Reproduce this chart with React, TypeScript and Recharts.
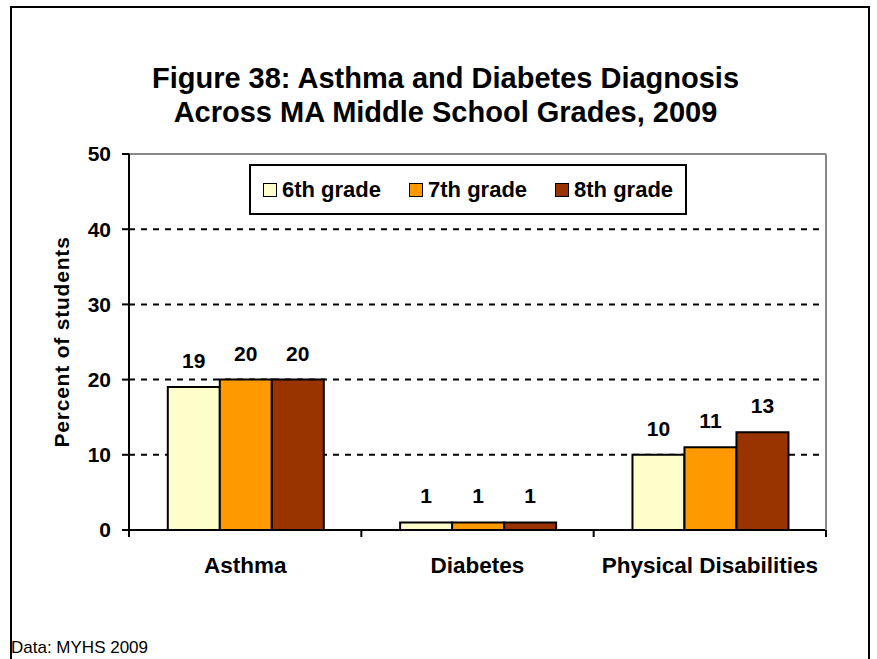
import React from 'react';
import { BarChart, Bar, XAxis, YAxis, CartesianGrid, Legend, LabelList } from 'recharts';

const categories = ['Asthma', 'Diabetes', 'Physical Disabilities'];
const grade6 = [19, 1, 10];
const grade7 = [20, 1, 11];
const grade8 = [20, 1, 13];
const seriesNames = ['6th grade', '7th grade', '8th grade'];
const seriesColors = ['#FFFFCC', '#FF9900', '#993300'];
const yTicks = [0, 10, 20, 30, 40, 50];

const data = categories.map((c, i) => ({ category: c, g6: grade6[i], g7: grade7[i], g8: grade8[i] }));
const keys = ['g6', 'g7', 'g8'];

const FONT = 'Arial, "Liberation Sans", sans-serif';

const CatTick = (props: any) => {
  const { x, y, payload, index, visibleTicksCount } = props;
  const half = payload && typeof payload.offset === 'number' ? payload.offset : 0;
  const isLast = typeof visibleTicksCount === 'number' ? index === visibleTicksCount - 1 : index === categories.length - 1;
  return (
    <g>
      <line x1={x - half} y1={y} x2={x - half} y2={y + 7} stroke="#000" strokeWidth={2} />
      {isLast && <line x1={x + half} y1={y} x2={x + half} y2={y + 7} stroke="#000" strokeWidth={2} />}
      <text x={x} y={y} dy={43} textAnchor="middle" fontFamily={FONT} fontWeight="bold" fontSize={22.5} fill="#000">
        {payload.value}
      </text>
    </g>
  );
};

const LegendContent = (props: any) => {
  const { payload } = props;
  return (
    <div
      style={{
        border: '2px solid #000',
        background: '#fff',
        boxSizing: 'border-box',
        width: 438,
        height: 51,
        display: 'flex',
        alignItems: 'center',
        paddingLeft: 12,
        fontFamily: FONT,
        fontWeight: 'bold',
        fontSize: 22,
        color: '#000',
      }}
    >
      {(payload || []).map((p: any, i: number) => (
        <div key={i} style={{ display: 'flex', alignItems: 'center', marginRight: i < 2 ? 28 : 0 }}>
          <span
            style={{
              display: 'inline-block',
              width: 12,
              height: 12,
              border: '1.5px solid #000',
              background: p.color,
              marginRight: 5,
            }}
          />
          <span>{p.value}</span>
        </div>
      ))}
    </div>
  );
};

export default function App() {
  return (
    <div style={{ position: 'absolute', left: 0, top: 0, width: 877, height: 659, background: '#fff', overflow: 'hidden' }}>
      <div
        style={{
          position: 'absolute',
          left: 10,
          top: 6,
          width: 860,
          height: 700,
          border: '2px solid #000',
          boxSizing: 'border-box',
        }}
      />
      <div
        style={{
          position: 'absolute',
          left: 0,
          top: 61,
          width: 891,
          textAlign: 'center',
          fontFamily: FONT,
          fontWeight: 'bold',
          fontSize: 29,
          lineHeight: '34px',
          color: '#000',
        }}
      >
        Figure 38: Asthma and Diabetes Diagnosis
        <br />
        Across MA Middle School Grades, 2009
      </div>
      <div
        style={{
          position: 'absolute',
          left: 11,
          top: 638,
          fontFamily: FONT,
          fontSize: 17,
          color: '#000',
        }}
      >
        Data: MYHS 2009
      </div>
      <div style={{ position: 'absolute', left: 0, top: 0 }}>
        <BarChart
          width={877}
          height={659}
          data={data}
          margin={{ top: 153, right: 50, bottom: 69, left: 0 }}
          barCategoryGap="16.7%"
          barGap={0}
        >
          <CartesianGrid vertical={false} stroke="#000" strokeWidth={2} strokeDasharray="6 6" />
          <XAxis
            xAxisId="top"
            orientation="top"
            dataKey="category"
            height={1}
            tick={false}
            tickLine={false}
            axisLine={{ stroke: '#888', strokeWidth: 2 }}
          />
          <XAxis
            dataKey="category"
            height={60}
            interval={0}
            axisLine={{ stroke: '#000', strokeWidth: 2 }}
            tickLine={false}
            tickSize={0}
            tickMargin={0}
            tick={<CatTick />}
          />
          <YAxis
            width={129}
            domain={[0, 50]}
            ticks={yTicks}
            interval={0}
            axisLine={{ stroke: '#000', strokeWidth: 2 }}
            tickLine={{ stroke: '#000', strokeWidth: 2 }}
            tickSize={7}
            tickMargin={11}
            tick={{ fontFamily: FONT, fontWeight: 'bold', fontSize: 21, fill: '#000' }}
            label={{
              value: 'Percent of students',
              angle: -90,
              position: 'center',
              dx: -3,
              style: { fontFamily: FONT, fontWeight: 'bold', fontSize: 21, fill: '#000', letterSpacing: 0.8 },
            }}
          />
          <YAxis
            yAxisId="right"
            orientation="right"
            width={1}
            domain={[0, 50]}
            tick={false}
            tickLine={false}
            axisLine={{ stroke: '#888', strokeWidth: 2 }}
          />
          <Legend
            verticalAlign="middle"
            align="center"
            layout="horizontal"
            wrapperStyle={{ position: 'absolute', left: 249, top: 164, width: 438, height: 51 }}
            content={<LegendContent />}
          />
          {keys.map((k, i) => (
            <Bar
              key={k}
              dataKey={k}
              name={seriesNames[i]}
              fill={seriesColors[i]}
              stroke="#000"
              strokeWidth={2}
              isAnimationActive={false}
            >
              <LabelList
                dataKey={k}
                position="top"
                offset={19}
                style={{ fontFamily: FONT, fontWeight: 'bold', fontSize: 21, fill: '#000' }}
              />
            </Bar>
          ))}
        </BarChart>
      </div>
    </div>
  );
}
